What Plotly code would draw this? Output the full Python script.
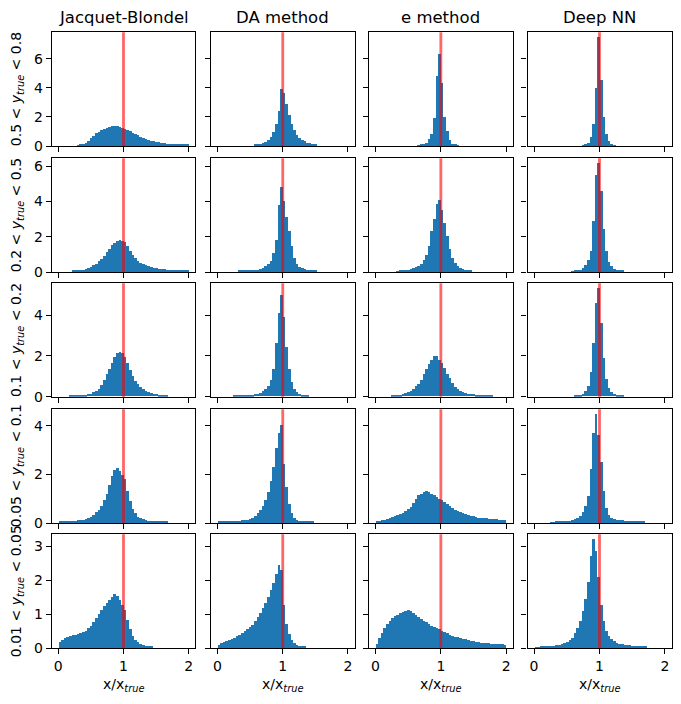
import numpy as np
import plotly.graph_objects as go
from plotly.subplots import make_subplots

methods = ["Jacquet-Blondel", "DA method", "e method", "Deep NN"]
row_labels = [
    "0.5 &lt; <i>y</i><sub><i>true</i></sub> &lt; 0.8",
    "0.2 &lt; <i>y</i><sub><i>true</i></sub> &lt; 0.5",
    "0.1 &lt; <i>y</i><sub><i>true</i></sub> &lt; 0.2",
    "0.05 &lt; <i>y</i><sub><i>true</i></sub> &lt; 0.1",
    "0.01 &lt; <i>y</i><sub><i>true</i></sub> &lt; 0.05",
]
x_label = "x/x<sub><i>true</i></sub>"
x_ticks = [0, 1, 2]
row_yticks = [[0, 2, 4, 6], [0, 2, 4, 6], [0, 2, 4], [0, 2, 4], [0, 1, 2, 3]]

# histogram bins: 50 bins on [0, 2]
bin_edges = np.linspace(0, 2, 51)

# ---- row 1 : 0.5 < y < 0.8 ----
jb_r1 = [0, 0, 0, 0, 0, 0, 0, 0.04, 0.08, 0.13,
         0.2, 0.35, 0.55, 0.7, 0.85, 0.97, 1.08, 1.17, 1.24, 1.29,
         1.33, 1.37, 1.34, 1.28, 1.23, 1.18, 1.1, 1.0, 0.9, 0.8,
         0.72, 0.63, 0.55, 0.47, 0.4, 0.34, 0.3, 0.27, 0.23, 0.2,
         0.17, 0.15, 0.13, 0.11, 0.1, 0.09, 0.08, 0.08, 0.07, 0.07]
da_r1 = [0, 0, 0, 0, 0, 0, 0, 0, 0, 0,
         0, 0, 0, 0, 0.05, 0.08, 0.12, 0.18, 0.26, 0.38,
         0.6, 0.95, 1.5, 2.4, 3.9, 3.6, 2.9, 2.1, 1.5, 1.05,
         0.75, 0.55, 0.4, 0.3, 0.22, 0.17, 0.12, 0.08, 0, 0,
         0, 0, 0, 0, 0, 0, 0, 0, 0, 0]
e_r1 = [0, 0, 0, 0, 0, 0, 0, 0, 0, 0,
        0, 0, 0, 0, 0, 0, 0.03, 0.06, 0.12, 0.22,
        0.45, 0.8, 1.9, 4.8, 6.3, 4.3, 2.0, 1.0, 0.4, 0.15,
        0.07, 0.03, 0, 0, 0, 0, 0, 0, 0, 0,
        0, 0, 0, 0, 0, 0, 0, 0, 0, 0]
nn_r1 = [0, 0, 0, 0, 0, 0, 0, 0, 0, 0,
         0, 0, 0, 0, 0, 0, 0, 0, 0.03, 0.07,
         0.18, 0.6, 1.5, 4.0, 7.45, 4.5, 2.0, 0.8, 0.3, 0.1,
         0.03, 0, 0, 0, 0, 0, 0, 0, 0, 0,
         0, 0, 0, 0, 0, 0, 0, 0, 0, 0]

# ---- row 2 : 0.2 < y < 0.5 ----
jb_r2 = [0, 0, 0, 0, 0, 0.05, 0.06, 0.07, 0.09, 0.11,
         0.15, 0.2, 0.28, 0.36, 0.46, 0.58, 0.73, 0.9, 1.1, 1.3,
         1.5, 1.64, 1.74, 1.8, 1.76, 1.66, 1.45, 1.2, 0.95, 0.75,
         0.6, 0.5, 0.42, 0.36, 0.31, 0.27, 0.23, 0.2, 0.18, 0.16,
         0.14, 0.12, 0.11, 0.1, 0.09, 0.08, 0.07, 0.07, 0.06, 0.06]
da_r2 = [0, 0, 0, 0, 0, 0, 0, 0, 0.05, 0.05,
         0.05, 0.05, 0.06, 0.06, 0.07, 0.1, 0.14, 0.2, 0.3, 0.42,
         0.6, 1.05, 1.8, 3.8, 4.8, 4.0, 3.1, 2.3, 1.45, 0.8,
         0.45, 0.28, 0.2, 0.15, 0.12, 0.09, 0.08, 0.06, 0, 0,
         0, 0, 0, 0, 0, 0, 0, 0, 0, 0]
e_r2 = [0, 0, 0, 0, 0, 0, 0, 0, 0.04, 0.06,
        0.07, 0.09, 0.12, 0.16, 0.2, 0.26, 0.34, 0.46, 0.64, 0.95,
        1.45, 2.3, 3.0, 3.85, 4.05, 3.5, 2.75, 2.0, 1.3, 0.8,
        0.5, 0.32, 0.22, 0.16, 0.12, 0.09, 0.06, 0, 0, 0,
        0, 0, 0, 0, 0, 0, 0, 0, 0, 0]
nn_r2 = [0, 0, 0, 0, 0, 0, 0, 0, 0, 0,
         0, 0, 0, 0, 0.03, 0.06, 0.08, 0.11, 0.22, 0.4,
         0.65, 1.2, 2.9, 5.5, 6.15, 4.6, 2.4, 1.2, 0.55, 0.3,
         0.18, 0.12, 0.08, 0.05, 0, 0, 0, 0, 0, 0,
         0, 0, 0, 0, 0, 0, 0, 0, 0, 0]

# ---- row 3 : 0.1 < y < 0.2 ----
jb_r3 = [0, 0, 0, 0, 0.03, 0.03, 0.04, 0.05, 0.06, 0.08,
         0.09, 0.11, 0.14, 0.2, 0.28, 0.38, 0.55, 0.8, 1.08, 1.35,
         1.62, 1.92, 2.12, 2.2, 2.12, 1.92, 1.62, 1.3, 1.02, 0.78,
         0.6, 0.46, 0.36, 0.28, 0.21, 0.16, 0.12, 0.1, 0.08, 0.07,
         0.05, 0.03, 0, 0, 0, 0, 0, 0, 0, 0]
da_r3 = [0, 0, 0, 0, 0, 0, 0.03, 0.03, 0.03, 0.03,
         0.04, 0.05, 0.06, 0.07, 0.1, 0.13, 0.18, 0.25, 0.35, 0.5,
         0.8, 1.35, 2.6, 4.1, 5.0, 3.9, 2.4, 1.35, 0.7, 0.38,
         0.2, 0.12, 0.08, 0.05, 0.03, 0, 0, 0, 0, 0,
         0, 0, 0, 0, 0, 0, 0, 0, 0, 0]
e_r3 = [0, 0, 0, 0, 0, 0, 0.03, 0.05, 0.07, 0.09,
        0.12, 0.16, 0.2, 0.26, 0.36, 0.5, 0.62, 0.82, 1.08, 1.35,
        1.58, 1.8, 1.96, 2.0, 1.8, 1.62, 1.38, 1.12, 0.88, 0.66,
        0.48, 0.36, 0.28, 0.22, 0.17, 0.14, 0.12, 0.1, 0.08, 0.07,
        0.06, 0.05, 0.04, 0.04, 0.03, 0, 0, 0, 0, 0]
nn_r3 = [0, 0, 0, 0, 0, 0, 0, 0, 0, 0,
         0, 0, 0, 0, 0, 0.03, 0.04, 0.07, 0.13, 0.25,
         0.5, 1.2, 2.6, 4.6, 5.3, 3.6, 1.9, 0.85, 0.4, 0.22,
         0.13, 0.08, 0.05, 0.03, 0, 0, 0, 0, 0, 0,
         0, 0, 0, 0, 0, 0, 0, 0, 0, 0]

# ---- row 4 : 0.05 < y < 0.1 ----
jb_r4 = [0.04, 0.06, 0.07, 0.07, 0.08, 0.08, 0.09, 0.11, 0.12, 0.13,
         0.16, 0.2, 0.25, 0.32, 0.42, 0.54, 0.7, 0.92, 1.2, 1.55,
         1.9, 2.15, 2.25, 2.12, 1.98, 1.78, 1.3, 0.88, 0.58, 0.38,
         0.25, 0.18, 0.14, 0.11, 0.09, 0.07, 0.06, 0.05, 0.05, 0.04,
         0.04, 0.03, 0, 0, 0, 0, 0, 0, 0, 0]
da_r4 = [0.04, 0.05, 0.06, 0.07, 0.07, 0.07, 0.08, 0.08, 0.09, 0.1,
         0.11, 0.13, 0.15, 0.2, 0.27, 0.38, 0.52, 0.68, 0.92, 1.25,
         1.7, 2.3, 3.05, 3.7, 4.0, 2.4, 1.45, 0.75, 0.38, 0.2,
         0.13, 0.09, 0.07, 0.05, 0.05, 0.04, 0.03, 0, 0, 0,
         0, 0, 0, 0, 0, 0, 0, 0, 0, 0]
e_r4 = [0.04, 0.07, 0.1, 0.13, 0.16, 0.2, 0.23, 0.27, 0.3, 0.35,
        0.41, 0.48, 0.56, 0.66, 0.8, 0.98, 1.12, 1.2, 1.26, 1.31,
        1.28, 1.2, 1.12, 1.05, 0.98, 0.92, 0.84, 0.76, 0.67, 0.59,
        0.52, 0.47, 0.42, 0.38, 0.35, 0.32, 0.29, 0.26, 0.23, 0.21,
        0.2, 0.19, 0.18, 0.17, 0.16, 0.15, 0.14, 0.13, 0.12, 0.12]
nn_r4 = [0, 0, 0, 0, 0, 0, 0.02, 0.02, 0.03, 0.03,
         0.04, 0.05, 0.06, 0.07, 0.1, 0.14, 0.2, 0.28, 0.42, 0.7,
         1.1, 2.2, 3.7, 4.45, 3.6, 2.5, 1.3, 0.6, 0.32, 0.2,
         0.15, 0.13, 0.11, 0.1, 0.09, 0.08, 0.07, 0.06, 0.06, 0.05,
         0.05, 0.04, 0, 0, 0, 0, 0, 0, 0, 0]

# ---- row 5 : 0.01 < y < 0.05 ----
jb_r5 = [0.18, 0.24, 0.28, 0.33, 0.36, 0.37, 0.38, 0.4, 0.42, 0.46,
         0.5, 0.57, 0.65, 0.76, 0.88, 1.0, 1.12, 1.22, 1.32, 1.42,
         1.51, 1.58, 1.54, 1.4, 1.25, 1.1, 0.82, 0.55, 0.36, 0.24,
         0.17, 0.12, 0.08, 0.05, 0.04, 0.03, 0, 0, 0, 0,
         0, 0, 0, 0, 0, 0, 0, 0, 0, 0]
da_r5 = [0.08, 0.14, 0.18, 0.21, 0.24, 0.27, 0.3, 0.34, 0.37, 0.42,
         0.48, 0.55, 0.6, 0.68, 0.78, 0.9, 1.02, 1.17, 1.32, 1.5,
         1.7, 1.92, 2.18, 2.45, 2.3, 1.25, 0.7, 0.4, 0.22, 0.13,
         0.08, 0.06, 0.04, 0.03, 0, 0, 0, 0, 0, 0,
         0, 0, 0, 0, 0, 0, 0, 0, 0, 0]
e_r5 = [0.12, 0.28, 0.44, 0.58, 0.7, 0.8, 0.87, 0.93, 0.98, 1.02,
        1.06, 1.09, 1.11, 1.08, 1.03, 0.98, 0.92, 0.86, 0.8, 0.75,
        0.7, 0.65, 0.61, 0.58, 0.54, 0.49, 0.45, 0.42, 0.39, 0.36,
        0.33, 0.31, 0.28, 0.26, 0.25, 0.23, 0.21, 0.19, 0.17, 0.16,
        0.15, 0.14, 0.14, 0.13, 0.12, 0.12, 0.11, 0.1, 0.1, 0.09]
nn_r5 = [0.01, 0.02, 0.03, 0.04, 0.05, 0.05, 0.06, 0.06, 0.07, 0.09,
         0.11, 0.13, 0.17, 0.23, 0.3, 0.42, 0.58, 0.8, 1.08, 1.45,
         1.95, 2.7, 3.2, 2.85, 2.1, 1.25, 0.8, 0.5, 0.34, 0.25,
         0.19, 0.14, 0.11, 0.1, 0.09, 0.08, 0.07, 0.06, 0.06, 0.05,
         0.05, 0.04, 0.04, 0, 0, 0, 0, 0, 0, 0]

heights = [
    [jb_r1, da_r1, e_r1, nn_r1],
    [jb_r2, da_r2, e_r2, nn_r2],
    [jb_r3, da_r3, e_r3, nn_r3],
    [jb_r4, da_r4, e_r4, nn_r4],
    [jb_r5, da_r5, e_r5, nn_r5],
]

# ---------------- layout geometry (pixels) ----------------
W, H = 681, 704
col_px = [(51.7, 195.3), (211.0, 354.5), (369.0, 512.7), (527.5, 671.5)]
row_px = [(32.3, 146.0), (158.3, 272.0), (283.3, 396.7), (409.3, 523.0), (534.3, 648.0)]

BLUE = "#1f77b4"
FONT = "DejaVu Sans"

fig = make_subplots(rows=5, cols=4)

centers = 0.5 * (bin_edges[:-1] + bin_edges[1:])
widths = np.diff(bin_edges)

shapes = []
annotations = []
for r in range(5):
    row_max = max(max(h) for h in heights[r])
    for c in range(4):
        idx = r * 4 + c + 1
        fig.add_trace(
            go.Bar(x=centers, y=heights[r][c], width=widths,
                   marker=dict(color=BLUE, line=dict(width=0)),
                   showlegend=False, hoverinfo="skip"),
            row=r + 1, col=c + 1)
        xs = "" if idx == 1 else str(idx)
        x0p, x1p = col_px[c]
        t_p, b_p = row_px[r]
        fig.layout["xaxis" + xs].update(
            domain=[x0p / W, x1p / W], range=[-0.1, 2.1], automargin=False,
            tickmode="array", tickvals=x_ticks, ticks="outside", ticklen=5,
            tickwidth=1.1, tickcolor="black", showline=True, mirror=True,
            linecolor="black", linewidth=1.1, showgrid=False, zeroline=False,
            showticklabels=(r == 4),
            tickfont=dict(family=FONT, size=14, color="black"))
        fig.layout["yaxis" + xs].update(
            domain=[1 - b_p / H, 1 - t_p / H], range=[0, 1.05 * row_max],
            automargin=False,
            tickmode="array", tickvals=row_yticks[r], ticks="outside", ticklen=5,
            tickwidth=1.1, tickcolor="black", showline=True, mirror=True,
            linecolor="black", linewidth=1.1, showgrid=False, zeroline=False,
            showticklabels=(c == 0),
            tickfont=dict(family=FONT, size=14, color="black"))
        shapes.append(dict(type="line", xref="x" + xs, yref="y" + xs + " domain",
                           x0=1, x1=1, y0=0, y1=1, layer="above",
                           line=dict(color="rgba(255,0,0,0.6)", width=2.8)))

# column titles and x-axis labels
for c, name in enumerate(methods):
    x0p, x1p = col_px[c]
    xc = (x0p + x1p) / 2 / W
    annotations.append(dict(text=name, x=xc, y=1 - 18 / H,
                            xref="paper", yref="paper", showarrow=False,
                            xanchor="center", yanchor="middle",
                            font=dict(family=FONT, size=16.5, color="black")))
    annotations.append(dict(text=x_label, x=xc, y=1 - 685 / H,
                            xref="paper", yref="paper", showarrow=False,
                            xanchor="center", yanchor="middle",
                            font=dict(family=FONT, size=14, color="black")))
# row labels
for r, lab in enumerate(row_labels):
    t_p, b_p = row_px[r]
    annotations.append(dict(text=lab, x=17 / W, y=1 - (t_p + b_p) / 2 / H,
                            xref="paper", yref="paper", showarrow=False,
                            textangle=-90, xanchor="center", yanchor="middle",
                            font=dict(family=FONT, size=14, color="black")))

fig.update_layout(
    width=W, height=H, margin=dict(l=0, r=0, t=0, b=0, autoexpand=False),
    paper_bgcolor="white", plot_bgcolor="white",
    shapes=shapes, annotations=annotations, bargap=0,
    font=dict(family=FONT, size=14, color="black"),
)

fig.write_html("out.html", config={"displayModeBar": False},
               post_script="document.body.style.margin='0';document.body.style.padding='0';")
